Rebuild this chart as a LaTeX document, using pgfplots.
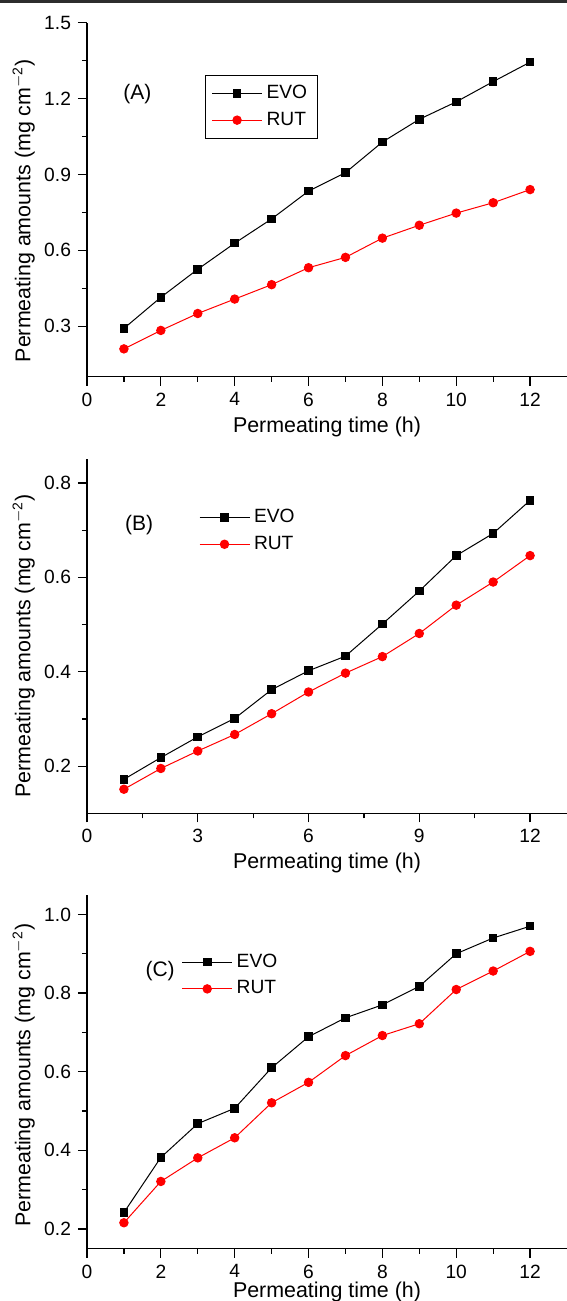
\documentclass[border=0pt]{standalone}
\usepackage{fontspec}
\setmainfont{Liberation Sans}
\usepackage{pgfplots}
\pgfplotsset{compat=1.18}
\definecolor{topbar}{RGB}{45,45,45}
\pgfplotsset{
  panel/.style={
    scale only axis, width=240pt, height=177pt,
    axis x line=bottom, axis y line=left,
    axis line style={-, line width=0.65pt},
    tick align=outside,
    major tick length=4.5pt, minor tick length=2.5pt,
    every tick/.style={black, line width=0.6pt},
    minor tick num=1,
    xmin=0, xmax=13,
    /pgf/number format/assume math mode=true,
    tick label style={font=\fontsize{9.6}{11}\selectfont},
    label style={font=\fontsize{10.7}{12}\selectfont},
    xlabel={Permeating time (h)},
    ylabel={Permeating amounts (mg cm\textsuperscript{\fontsize{7}{8}\selectfont $-$2})},
    xlabel style={at={(axis description cs:0.5,-0.141)}, anchor=center},
    legend style={font=\fontsize{9.6}{11}\selectfont, row sep=1.2pt,
      inner sep=3pt, cells={anchor=west}},
    legend image code/.code={\draw[mark repeat=2,mark phase=2] plot coordinates {(0pt,0pt)(12.5pt,0pt)(25pt,0pt)};},
    clip=false,
  },
  evo/.style={black, line width=0.5pt, mark=square*, mark size=1.9pt, mark options={solid}},
  rut/.style={red, line width=0.5pt, mark=*, mark size=2.1pt, mark options={solid}},
}
\begin{document}
\begin{tikzpicture}
\path[use as bounding box] (0,0) rectangle (283.5pt,-650.5pt);
\fill[topbar] (0,0) rectangle (283.5pt,-1.5pt);
% Panel A
\begin{axis}[panel, at={(43.5pt,-188.35pt)}, anchor=south west,
  ymin=0.1, ymax=1.5, ytick={0.3,0.6,0.9,1.2,1.5},
  xtick={0,2,4,6,8,10,12},
  yticklabel style={/pgf/number format/.cd, fixed, fixed zerofill, precision=1},
  ylabel style={at={(axis description cs:-0.132,0.469)}, anchor=center},
  legend style={at={(axis description cs:0.246,0.853)}, anchor=north west, draw=black, line width=0.5pt}]
\addplot[evo] coordinates {(1,0.291)(2,0.414)(3,0.525)(4,0.628)(5,0.724)(6,0.834)(7,0.907)(8,1.028)(9,1.118)(10,1.187)(11,1.267)(12,1.344)};
\addplot[rut] coordinates {(1,0.210)(2,0.283)(3,0.350)(4,0.407)(5,0.464)(6,0.531)(7,0.572)(8,0.648)(9,0.699)(10,0.747)(11,0.788)(12,0.840)};
\legend{EVO,RUT}
\node[font=\fontsize{10.5}{12}\selectfont] at (axis cs:1.365,1.216) {(A)};
\end{axis}
% Panel B
\begin{axis}[panel, at={(43.5pt,-406.65pt)}, anchor=south west,
  ymin=0.1, ymax=0.85, ytick={0.2,0.4,0.6,0.8},
  xtick={0,3,6,9,12},
  yticklabel style={/pgf/number format/.cd, fixed, fixed zerofill, precision=1},
  ylabel style={at={(axis description cs:-0.132,0.473)}, anchor=center},
  legend style={at={(axis description cs:0.22,0.888)}, anchor=north west, draw=none, fill=none}]
\addplot[evo] coordinates {(1,0.172)(2,0.218)(3,0.262)(4,0.301)(5,0.362)(6,0.402)(7,0.433)(8,0.501)(9,0.571)(10,0.646)(11,0.693)(12,0.763)};
\addplot[rut] coordinates {(1,0.151)(2,0.195)(3,0.232)(4,0.267)(5,0.311)(6,0.357)(7,0.397)(8,0.432)(9,0.481)(10,0.541)(11,0.590)(12,0.646)};
\legend{EVO,RUT}
\node[font=\fontsize{10.5}{12}\selectfont] at (axis cs:1.41,0.711) {(B)};
\end{axis}
% Panel C
\begin{axis}[panel, at={(43.5pt,-624.35pt)}, anchor=south west,
  ymin=0.15, ymax=1.05, ytick={0.2,0.4,0.6,0.8,1.0},
  xtick={0,2,4,6,8,10,12},
  yticklabel style={/pgf/number format/.cd, fixed, fixed zerofill, precision=1},
  ylabel style={at={(axis description cs:-0.132,0.49)}, anchor=center},
  xlabel style={at={(axis description cs:0.5,-0.122)}, anchor=center},
  legend style={at={(axis description cs:0.184,0.862)}, anchor=north west, draw=none, fill=none}]
\addplot[evo] coordinates {(1,0.242)(2,0.382)(3,0.468)(4,0.507)(5,0.610)(6,0.689)(7,0.737)(8,0.770)(9,0.817)(10,0.900)(11,0.940)(12,0.970)};
\addplot[rut] coordinates {(1,0.216)(2,0.321)(3,0.381)(4,0.432)(5,0.521)(6,0.573)(7,0.641)(8,0.692)(9,0.722)(10,0.809)(11,0.856)(12,0.906)};
\legend{EVO,RUT}
\node[font=\fontsize{10.5}{12}\selectfont] at (axis cs:1.98,0.857) {(C)};
\end{axis}
\end{tikzpicture}
\end{document}
